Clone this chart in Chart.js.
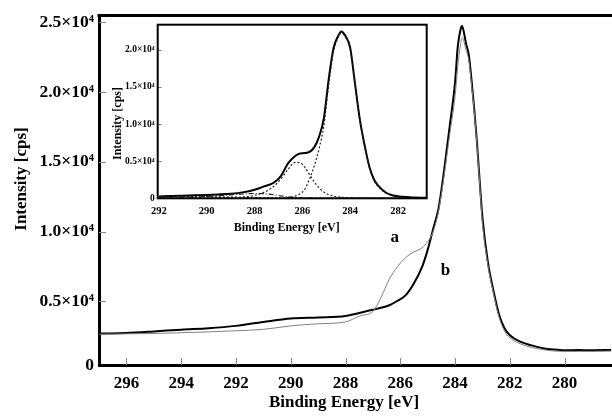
<!DOCTYPE html>
<html>
<head>
<meta charset="utf-8">
<script src="https://cdn.jsdelivr.net/npm/chart.js@4.4.0/dist/chart.umd.min.js"></script>
<style>
  body { margin: 0; background: #fff; }
  #wrap { position: relative; width: 612px; height: 417px; overflow: hidden; }
  #main { position: absolute; left: 0; top: 0; }
  #inset { position: absolute; left: 105px; top: 16px; }
</style>
</head>
<body>
<div id="wrap">
  <canvas id="main" width="612" height="417"></canvas>
  <canvas id="inset" width="325" height="224"></canvas>
</div>
<script>
// main spectrum (binding energy in eV, intensity in cps)
const mainEnergy = [297, 296, 295, 294, 293, 292, 291, 290, 289, 288, 287.5, 287, 286.7, 286.4, 286.1, 285.8, 285.5, 285.2, 285.0, 284.8, 284.6, 284.4, 284.2, 284.0, 283.9, 283.8, 283.75, 283.7, 283.6, 283.5, 283.4, 283.3, 283.2, 283.1, 283.0, 282.8, 282.6, 282.4, 282.2, 282.0, 281.6, 281.2, 280.8, 280.4, 280, 279.5, 279, 278.3];
const curveA = [2650, 2680, 2700, 2760, 2820, 2900, 3000, 3250, 3400, 3530, 3950, 4300, 5300, 6600, 7500, 8150, 8550, 8850, 9300, 10000, 11500, 14000, 16900, 19700, 21900, 23400, 23900, 23800, 23000, 22300, 20600, 18600, 16200, 13400, 10600, 7600, 5600, 3900, 2900, 2400, 1950, 1700, 1550, 1450, 1420, 1420, 1420, 1440];
const curveB = [2700, 2740, 2850, 2980, 3080, 3250, 3530, 3780, 3850, 3950, 4170, 4400, 4550, 4730, 5050, 5450, 6300, 7500, 8700, 10200, 11700, 14400, 17500, 20700, 23300, 24500, 24750, 24500, 23500, 22700, 20900, 18800, 16400, 13600, 11000, 7800, 5780, 4100, 3100, 2580, 2100, 1850, 1650, 1550, 1500, 1520, 1500, 1520];

// inset: C1s fit
const insetEnergy = [292, 291.5, 291, 290.5, 290, 289.5, 289, 288.5, 288, 287.6, 287.2, 286.9, 286.6, 286.3, 286.1, 285.9, 285.7, 285.5, 285.3, 285.1, 284.9, 284.7, 284.5, 284.37, 284.2, 284.0, 283.8, 283.6, 283.4, 283.2, 283.0, 282.8, 282.5, 282.2, 281.8, 281.4, 280.8];
const insetTotal = [250, 310, 360, 400, 450, 520, 620, 800, 1150, 1600, 2100, 3000, 4700, 5700, 6050, 6100, 6250, 6900, 8300, 10800, 16000, 20200, 21900, 22500, 21900, 20300, 15500, 10700, 7200, 4300, 2500, 1600, 750, 380, 200, 120, 80];
const peakC1 = [0, 0, 0, 0, 0, 0, 0, 0, 0, 0, 0, 30, 100, 300, 600, 1200, 2600, 4400, 6700, 9800, 15300, 19700, 21700, 22300, 21700, 20200, 15400, 10600, 7100, 4200, 2400, 1500, 700, 350, 150, 80, 40];
const peakC2 = [0, 0, 0, 0, 0, 20, 50, 150, 400, 800, 1600, 2600, 3900, 4850, 4800, 4200, 3200, 2200, 1400, 850, 500, 300, 180, 140, 100, 60, 40, 30, 20, 10, 0, 0, 0, 0, 0, 0, 0];
const peakC3 = [0, 50, 100, 170, 250, 350, 450, 580, 650, 620, 480, 330, 200, 100, 60, 40, 20, 0, 0, 0, 0, 0, 0, 0, 0, 0, 0, 0, 0, 0, 0, 0, 0, 0, 0, 0, 0];
const peakC4 = [180, 200, 220, 225, 220, 200, 170, 130, 100, 70, 50, 30, 15, 0, 0, 0, 0, 0, 0, 0, 0, 0, 0, 0, 0, 0, 0, 0, 0, 0, 0, 0, 0, 0, 0, 0, 0];

// ticks
const mainXTicks = [296, 294, 292, 290, 288, 286, 284, 282, 280];
const mainYTicks = [0, 5000, 10000, 15000, 20000, 25000];
const mainYLabels = ["0", "0.5×10⁴", "1.0×10⁴", "1.5×10⁴", "2.0×10⁴", "2.5×10⁴"];
const insetXTicks = [292, 290, 288, 286, 284, 282];
const insetYTicks = [0, 5000, 10000, 15000, 20000];
const insetYLabels = ["0", "0.5×10⁴", "1.0×10⁴", "1.5×10⁴", "2.0×10⁴"];

const serif = "'Liberation Serif', 'Times New Roman', serif";

function pts(xs, ys) {
  return xs.map((x, i) => ({ x: x, y: ys[i] }));
}

// small tick marks pointing into the plot, frame lines and axis titles
function frameTicks(cfg) {
  return {
    id: "frameTicks",
    afterDraw(chart) {
      const ctx = chart.ctx;
      const a = chart.chartArea;
      const xs = chart.scales.x, ys = chart.scales.y;
      ctx.save();
      ctx.strokeStyle = "#888";
      ctx.lineWidth = 1;
      if (cfg.xInside) {
        xs.ticks.forEach((t) => {
          const px = Math.round(xs.getPixelForValue(t.value)) + 0.5;
          ctx.beginPath();
          ctx.moveTo(px, a.bottom);
          ctx.lineTo(px, a.bottom - cfg.len);
          ctx.stroke();
        });
      }
      ys.ticks.forEach((t) => {
        const py = Math.round(ys.getPixelForValue(t.value)) + 0.5;
        if (py > a.bottom - 3) return;
        ctx.beginPath();
        ctx.moveTo(a.left, py);
        ctx.lineTo(a.left + cfg.len, py);
        ctx.stroke();
      });
      ctx.fillStyle = "#000";
      if (cfg.boxAll) {
        ctx.strokeStyle = "#000";
        ctx.lineWidth = 2;
        ctx.strokeRect(a.left, a.top, a.right - a.left, a.bottom - a.top);
      } else {
        ctx.fillRect(a.left - 1.5, a.top - 1.5, a.right - a.left + 1.5, 3);
      }
      // titles
      ctx.font = "bold " + cfg.titleSize + "px " + serif;
      ctx.textAlign = "center";
      ctx.textBaseline = "middle";
      ctx.fillText("Binding Energy [eV]", cfg.xTitle[0], cfg.xTitle[1]);
      ctx.translate(cfg.yTitle[0], cfg.yTitle[1]);
      ctx.rotate(-Math.PI / 2);
      ctx.fillText("Intensity [cps]", 0, 0);
      ctx.restore();
    },
  };
}

// "a" and "b" curve labels
const curveLabels = {
  id: "curveLabels",
  afterDatasetsDraw(chart) {
    const ctx = chart.ctx;
    const xs = chart.scales.x, ys = chart.scales.y;
    ctx.save();
    ctx.fillStyle = "#000";
    ctx.font = "bold 17px " + serif;
    ctx.textAlign = "center";
    ctx.textBaseline = "middle";
    ctx.fillText("a", xs.getPixelForValue(286.2), ys.getPixelForValue(9550));
    ctx.fillText("b", xs.getPixelForValue(284.35), ys.getPixelForValue(7200));
    ctx.restore();
  },
};

new Chart(document.getElementById("main"), {
  type: "line",
  data: {
    datasets: [
      {
        label: "a",
        data: pts(mainEnergy, curveA),
        borderColor: "#808080",
        borderWidth: 1,
        pointRadius: 0,
        cubicInterpolationMode: "monotone",
      },
      {
        label: "b",
        data: pts(mainEnergy, curveB),
        borderColor: "#000",
        borderWidth: 2,
        pointRadius: 0,
        cubicInterpolationMode: "monotone",
      },
    ],
  },
  options: {
    responsive: false,
    animation: false,
    layout: { padding: { top: 13, right: 0, left: 0, bottom: 0 } },
    plugins: { legend: { display: false }, tooltip: { enabled: false } },
    scales: {
      x: {
        type: "linear",
        reverse: true,
        min: 278.27,
        max: 297,
        afterFit: (s) => { s.height = 52; },
        afterBuildTicks: (s) => { s.ticks = mainXTicks.map((v) => ({ value: v })); },
        grid: { display: false, drawTicks: false },
        border: { color: "#000", width: 3 },
        ticks: { color: "#000", font: { family: serif, size: 17, weight: "bold" }, padding: 8, maxRotation: 0, autoSkip: false },
      },
      y: {
        min: 445,
        max: 25500,
        afterFit: (s) => { s.width = 99; },
        afterBuildTicks: (s) => { s.ticks = mainYTicks.map((v) => ({ value: Math.max(v, s.min) })); },
        grid: { display: false, drawTicks: false },
        border: { color: "#000", width: 3 },
        ticks: {
          color: "#000",
          font: { family: serif, size: 17.5, weight: "bold" },
          padding: 5,
          autoSkip: false,
          callback: (v, i) => mainYLabels[i],
        },
      },
    },
  },
  plugins: [frameTicks({ len: 7, boxAll: false, xInside: true, titleSize: 17, xTitle: [344, 403], yTitle: [22, 179] }), curveLabels],
});

const dotted = { borderColor: "#222", borderWidth: 1.2, borderDash: [2, 2], pointRadius: 0, cubicInterpolationMode: "monotone" };

new Chart(document.getElementById("inset"), {
  type: "line",
  data: {
    datasets: [
      Object.assign({ label: "C1", data: pts(insetEnergy, peakC1) }, dotted),
      Object.assign({ label: "C2", data: pts(insetEnergy, peakC2) }, dotted),
      Object.assign({ label: "C3", data: pts(insetEnergy, peakC3) }, dotted, { borderDash: [5, 2, 1, 2] }),
      Object.assign({ label: "C4", data: pts(insetEnergy, peakC4) }, dotted),
      {
        label: "total",
        data: pts(insetEnergy, insetTotal),
        borderColor: "#000",
        borderWidth: 2,
        pointRadius: 0,
        cubicInterpolationMode: "monotone",
      },
    ],
  },
  options: {
    responsive: false,
    animation: false,
    layout: { padding: { top: 3, right: 3.3, left: 0, bottom: 0 } },
    plugins: { legend: { display: false }, tooltip: { enabled: false } },
    scales: {
      x: {
        type: "linear",
        reverse: true,
        min: 280.8,
        max: 292.05,
        afterFit: (s) => { s.height = 41.7; },
        afterBuildTicks: (s) => { s.ticks = insetXTicks.map((v) => ({ value: v })); },
        grid: { display: false, drawTicks: false },
        border: { display: false },
        ticks: { color: "#000", font: { family: serif, size: 10.5, weight: "bold" }, padding: 7, maxRotation: 0, autoSkip: false },
      },
      y: {
        min: 0,
        max: 23400,
        afterFit: (s) => { s.width = 52.7; },
        afterBuildTicks: (s) => { s.ticks = insetYTicks.map((v) => ({ value: v })); },
        grid: { display: false, drawTicks: false },
        border: { display: false },
        ticks: {
          color: "#000",
          font: { family: serif, size: 9.5, weight: "bold" },
          padding: 3,
          autoSkip: false,
          callback: (v, i) => insetYLabels[i],
        },
      },
    },
  },
  plugins: [frameTicks({ len: 4, boxAll: true, xInside: false, titleSize: 12, xTitle: [181.7, 212], yTitle: [13, 107.5] })],
});
</script>
</body>
</html>
